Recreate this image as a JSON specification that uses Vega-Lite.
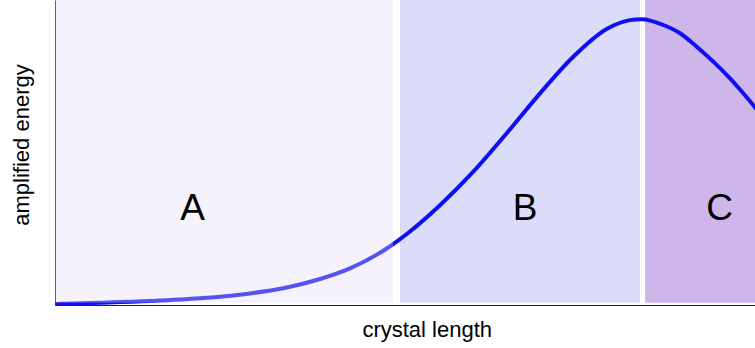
{
  "$schema": "https://vega.github.io/schema/vega-lite/v6.json",
  "width": 700,
  "height": 305,
  "autosize": "none",
  "padding": {"left": 55, "top": 0, "right": 0, "bottom": 43},
  "background": "white",
  "view": {"stroke": null},
  "config": {
    "font": "Liberation Sans",
    "axis": {
      "domainColor": "#222222",
      "domainWidth": 1,
      "ticks": false,
      "labels": false,
      "grid": false,
      "titleFont": "Liberation Sans",
      "titleFontSize": 22,
      "titleFontWeight": "normal",
      "titleColor": "#000000"
    }
  },
  "datasets": {
    "regions": [
      {"region": "A", "start": 0, "end": 4.829, "labelX": 1.964},
      {"region": "B", "start": 4.929, "end": 8.357, "labelX": 6.714},
      {"region": "C", "start": 8.429, "end": 10, "labelX": 9.493}
    ],
    "curve": [
      {"length": 0, "energy": 0.003},
      {"length": 0.64, "energy": 0.0072},
      {"length": 1.357, "energy": 0.013},
      {"length": 2.071, "energy": 0.022},
      {"length": 2.786, "energy": 0.038},
      {"length": 3.261, "energy": 0.055},
      {"length": 3.739, "energy": 0.082},
      {"length": 4.214, "energy": 0.12},
      {"length": 4.69, "energy": 0.178},
      {"length": 4.881, "energy": 0.208},
      {"length": 5.071, "energy": 0.241},
      {"length": 5.5, "energy": 0.327},
      {"length": 5.976, "energy": 0.437},
      {"length": 6.453, "energy": 0.563},
      {"length": 6.929, "energy": 0.694},
      {"length": 7.404, "energy": 0.814},
      {"length": 7.881, "energy": 0.905},
      {"length": 8.214, "energy": 0.934},
      {"length": 8.38, "energy": 0.937},
      {"length": 8.69, "energy": 0.918},
      {"length": 8.929, "energy": 0.891},
      {"length": 9.167, "energy": 0.847},
      {"length": 9.404, "energy": 0.798},
      {"length": 9.643, "energy": 0.743},
      {"length": 9.881, "energy": 0.681},
      {"length": 10.1, "energy": 0.62}
    ]
  },
  "layer": [
    {
      "data": {"name": "regions"},
      "transform": [{"filter": "datum.region !== 'A'"}],
      "mark": {"type": "rect", "clip": true},
      "encoding": {
        "x": {"field": "start", "type": "quantitative", "scale": {"domain": [0, 10], "nice": false, "zero": false}, "axis": {"title": "crystal length", "titleX": 371.7, "titleY": 31.5, "titleBaseline": "alphabetic", "titleAlign": "center", "titleAnchor": null}},
        "x2": {"field": "end"},
        "y": {"datum": 0.007, "type": "quantitative", "scale": {"domain": [0, 1], "nice": false, "zero": false}, "axis": {"title": "amplified energy", "titleX": -27, "titleY": 144.5, "titleBaseline": "alphabetic", "titleAlign": "center", "titleAngle": 270, "titleAnchor": null}},
        "y2": {"datum": 1},
        "color": {"field": "region", "type": "nominal", "scale": {"domain": ["A", "B", "C"], "range": ["#e2d9f6", "#dbdbfa", "#ceb6eb"]}, "legend": null}
      }
    },
    {
      "data": {"name": "curve"},
      "mark": {"type": "line", "clip": true, "color": "#0f0ff2", "strokeWidth": 4, "interpolate": "monotone"},
      "encoding": {
        "x": {"field": "length", "type": "quantitative"},
        "y": {"field": "energy", "type": "quantitative"}
      }
    },
    {
      "data": {"name": "regions"},
      "transform": [{"filter": "datum.region === 'A'"}],
      "mark": {"type": "rect", "opacity": 0.343},
      "encoding": {
        "x": {"field": "start", "type": "quantitative"},
        "x2": {"field": "end"},
        "y": {"datum": 0.007, "type": "quantitative"},
        "y2": {"datum": 1},
        "color": {"field": "region", "type": "nominal", "legend": null}
      }
    },
    {
      "data": {"name": "regions"},
      "mark": {"type": "text", "font": "Liberation Sans", "fontSize": 37, "color": "#000000", "baseline": "alphabetic", "align": "center"},
      "encoding": {
        "x": {"field": "labelX", "type": "quantitative"},
        "y": {"datum": 0.2787, "type": "quantitative"},
        "text": {"field": "region"}
      }
    }
  ]
}
